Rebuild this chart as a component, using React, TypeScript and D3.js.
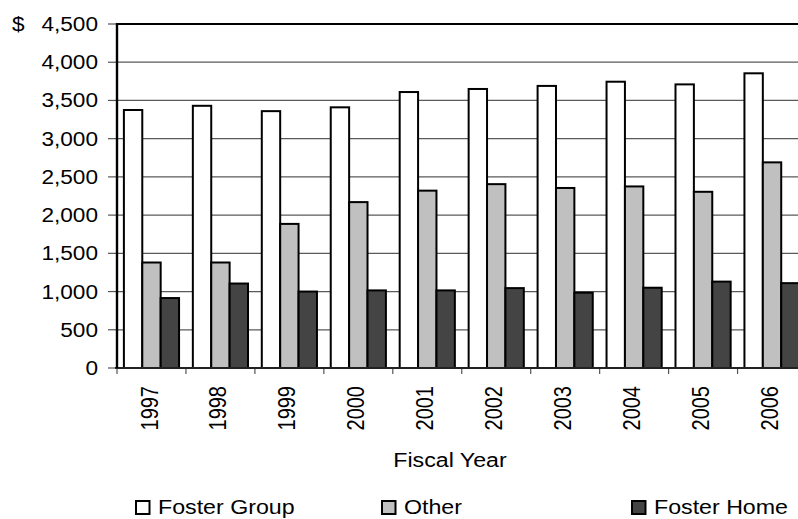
import React from "react";
import * as d3 from "d3";

const years = ["1997", "1998", "1999", "2000", "2001", "2002", "2003", "2004", "2005", "2006"];
const seriesNames = ["Foster Group", "Other", "Foster Home"];
const fosterGroup = [3375, 3430, 3360, 3410, 3610, 3650, 3690, 3745, 3710, 3855];
const other = [1380, 1380, 1885, 2170, 2320, 2405, 2355, 2375, 2305, 2690];
const fosterHome = [915, 1105, 1000, 1015, 1015, 1045, 985, 1050, 1130, 1110];
const yTicks = [0, 500, 1000, 1500, 2000, 2500, 3000, 3500, 4000, 4500];
const colors = ["#ffffff", "#c0c0c0", "#444444"];

const W = 798;
const H = 519;
const FONT = "'Liberation Sans', Arial, sans-serif";
const SX = 1.16;

export default function App() {
  const seriesValues = [fosterGroup, other, fosterHome];
  const x0 = 117;
  const x1 = x0 + 68.95 * years.length;
  const x = d3.scaleBand<string>().domain(years).range([x0, x1]).paddingInner(0.2).paddingOuter(0.1);
  const xs = d3.scaleBand<string>().domain(seriesNames).range([0, x.bandwidth()]).padding(0);
  const y = d3.scaleLinear().domain([0, 4500]).range([368, 24]);
  const fmt = d3.format(",");
  const step = x.step();

  const legendX = [135, 381, 631];

  return (
    <svg
      width={W}
      height={H}
      style={{ position: "absolute", left: 0, top: 0, background: "#fff" }}
      fontFamily={FONT}
    >
      {/* gridlines */}
      {yTicks.slice(1, -1).map((t) => (
        <line key={t} x1={x0} x2={W} y1={y(t)} y2={y(t)} stroke="#5a5a5a" strokeWidth={1.2} />
      ))}
      {/* top border */}
      <line x1={x0} x2={W} y1={y(4500)} y2={y(4500)} stroke="#000" strokeWidth={2} />
      {/* y tick marks */}
      {yTicks.map((t) => (
        <line key={"yt" + t} x1={108} x2={x0} y1={y(t)} y2={y(t)} stroke="#555" strokeWidth={1.2} />
      ))}
      {/* x tick marks */}
      {years.map((yr, i) => (
        <line key={"xt" + yr} x1={x0 + i * step} x2={x0 + i * step} y1={y(0)} y2={y(0) + 6} stroke="#555" strokeWidth={1.2} />
      ))}
      {/* bars */}
      {years.map((yr, i) => (
        <g key={yr} transform={`translate(${x(yr)},0)`}>
          {seriesNames.map((s, k) => {
            const v = seriesValues[k][i];
            return (
              <rect
                key={s}
                x={xs(s)}
                y={y(v)}
                width={xs.bandwidth()}
                height={y(0) - y(v)}
                fill={colors[k]}
                stroke="#000"
                strokeWidth={2}
              />
            );
          })}
        </g>
      ))}
      {/* axes */}
      <line x1={x0 - 2} x2={W} y1={y(0)} y2={y(0)} stroke="#222" strokeWidth={2} />
      <line x1={x0} x2={x0} y1={y(4500) - 1} y2={y(0)} stroke="#000" strokeWidth={2.4} />
      {/* y tick labels */}
      {yTicks.map((t) => (
        <text
          key={"yl" + t}
          transform={`translate(98,${y(t) + 7}) scale(${SX},1)`}
          textAnchor="end"
          fontSize={19.5}
          fill="#000"
        >
          {fmt(t)}
        </text>
      ))}
      <text transform={`translate(12,${y(4500) + 7}) scale(${SX},1)`} fontSize={19.5} fill="#000">
        $
      </text>
      {/* x tick labels */}
      {years.map((yr) => (
        <text
          key={"xl" + yr}
          transform={`translate(${(x(yr) as number) + x.bandwidth() / 2 - 2},386) scale(${SX},1) rotate(-90)`}
          textAnchor="end"
          dominantBaseline="central"
          fontSize={20}
          fill="#000"
        >
          {yr}
        </text>
      ))}
      {/* axis title */}
      <text transform={`translate(450,467) scale(${SX},1)`} textAnchor="middle" fontSize={20} fill="#000">
        Fiscal Year
      </text>
      {/* legend */}
      {seriesNames.map((s, k) => (
        <g key={"lg" + s}>
          <rect x={legendX[k] + 1} y={501} width={13.5} height={13} fill={colors[k]} stroke="#000" strokeWidth={2} />
          <text transform={`translate(${legendX[k] + 23},514) scale(${SX},1)`} fontSize={20} fill="#000">
            {s}
          </text>
        </g>
      ))}
    </svg>
  );
}
